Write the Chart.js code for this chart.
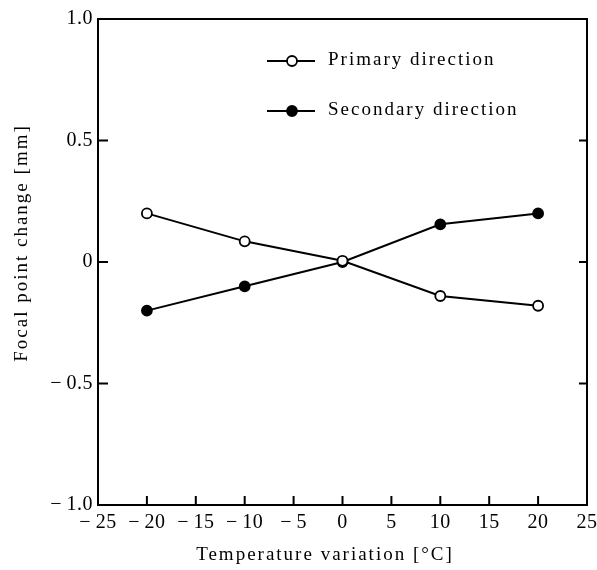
<!DOCTYPE html>
<html>
<head>
<meta charset="utf-8">
<script src="https://cdn.jsdelivr.net/npm/chart.js@4/dist/chart.umd.min.js"></script>
<style>
  html, body { margin: 0; padding: 0; background: #fff; }
  #wrap { width: 597px; height: 570px; }
</style>
</head>
<body>
<div id="wrap"><canvas id="chart" width="597" height="570"></canvas></div>
<script>
// data
const temps = [-20, -10, 0, 10, 20];
const primary = [0.20, 0.085, 0.005, -0.14, -0.18];
const secondary = [-0.20, -0.10, 0.0, 0.155, 0.20];
const xTicks = [-25, -20, -15, -10, -5, 0, 5, 10, 15, 20, 25];
const yTicks = [-1.0, -0.5, 0, 0.5, 1.0];
const seriesNames = ['Primary direction', 'Secondary direction'];

const ink = '#000';
const serif = '"Liberation Serif", "DejaVu Serif", serif';

function minus(s) { return String(s).replace('-', '\u2212\u2009'); }

const toPoints = ys => temps.map((t, i) => ({ x: t, y: ys[i] }));

// frame, inward tick marks, legend and axis titles
const paperPlugin = {
  id: 'paper',
  beforeDraw(chart) {
    chart.ctx.letterSpacing = '0.5px';
  },
  afterDraw(chart) {
    const ctx = chart.ctx;
    const a = chart.chartArea;
    const xs = chart.scales.x, ys = chart.scales.y;
    ctx.save();
    ctx.strokeStyle = ink;
    ctx.lineWidth = 2;
    ctx.strokeRect(a.left, a.top, a.right - a.left, a.bottom - a.top);

    ctx.beginPath();
    xTicks.forEach(v => {
      const px = xs.getPixelForValue(v);
      ctx.moveTo(px, a.bottom); ctx.lineTo(px, a.bottom - 9);
    });
    yTicks.forEach(v => {
      const py = ys.getPixelForValue(v);
      ctx.moveTo(a.left, py); ctx.lineTo(a.left + 10, py);
      ctx.moveTo(a.right, py); ctx.lineTo(a.right - 8, py);
    });
    ctx.stroke();

    // legend
    ctx.letterSpacing = '2px';
    ctx.font = '19px ' + serif;
    ctx.fillStyle = ink;
    ctx.textBaseline = 'middle';
    ctx.textAlign = 'left';
    chart.data.datasets.forEach((ds, i) => {
      const y = a.top + 42 + i * 50;
      ctx.beginPath();
      ctx.lineWidth = 2;
      ctx.moveTo(267, y); ctx.lineTo(315, y);
      ctx.stroke();
      ctx.beginPath();
      ctx.arc(292, y, 5, 0, Math.PI * 2);
      ctx.fillStyle = ds.pointBackgroundColor;
      ctx.fill();
      ctx.lineWidth = 1.8;
      ctx.stroke();
      ctx.fillStyle = ink;
      ctx.fillText(ds.label, 328, y - 1);
    });

    // axis titles
    ctx.textAlign = 'center';
    ctx.fillText('Temperature variation [\u00b0C]', 325, 555);
    ctx.translate(22, 243);
    ctx.rotate(-Math.PI / 2);
    ctx.fillText('Focal point change [mm]', 0, 0);
    ctx.restore();
  }
};

new Chart(document.getElementById('chart'), {
  type: 'line',
  data: {
    datasets: [
      {
        label: seriesNames[0],
        data: toPoints(primary),
        borderColor: ink,
        borderWidth: 2,
        pointRadius: 5,
        pointBorderWidth: 1.8,
        pointBackgroundColor: '#fff',
        pointBorderColor: ink
      },
      {
        label: seriesNames[1],
        data: toPoints(secondary),
        borderColor: ink,
        borderWidth: 2,
        pointRadius: 5,
        pointBorderWidth: 1.8,
        pointBackgroundColor: ink,
        pointBorderColor: ink
      }
    ]
  },
  options: {
    responsive: false,
    animation: false,
    layout: { padding: { top: 19, right: 10, left: 0, bottom: 0 } },
    plugins: { legend: { display: false }, tooltip: { enabled: false } },
    scales: {
      x: {
        type: 'linear',
        min: -25, max: 25,
        grid: { display: false, drawTicks: false },
        border: { display: false },
        afterBuildTicks: s => { s.ticks = xTicks.map(v => ({ value: v })); },
        afterFit: s => { s.height = 65; s.paddingLeft = 0; s.paddingRight = 0; },
        ticks: {
          padding: 6,
          color: ink,
          font: { family: serif, size: 20 },
          maxRotation: 0,
          callback: v => minus(v)
        }
      },
      y: {
        min: -1, max: 1,
        grid: { display: false, drawTicks: false },
        border: { display: false },
        afterBuildTicks: s => { s.ticks = yTicks.map(v => ({ value: v })); },
        afterFit: s => { s.width = 98; s.paddingTop = 0; s.paddingBottom = 0; },
        ticks: {
          padding: 5,
          color: ink,
          font: { family: serif, size: 20 },
          callback: v => v === 0 ? '0' : minus(v.toFixed(1))
        }
      }
    }
  },
  plugins: [paperPlugin]
});
</script>
</body>
</html>
